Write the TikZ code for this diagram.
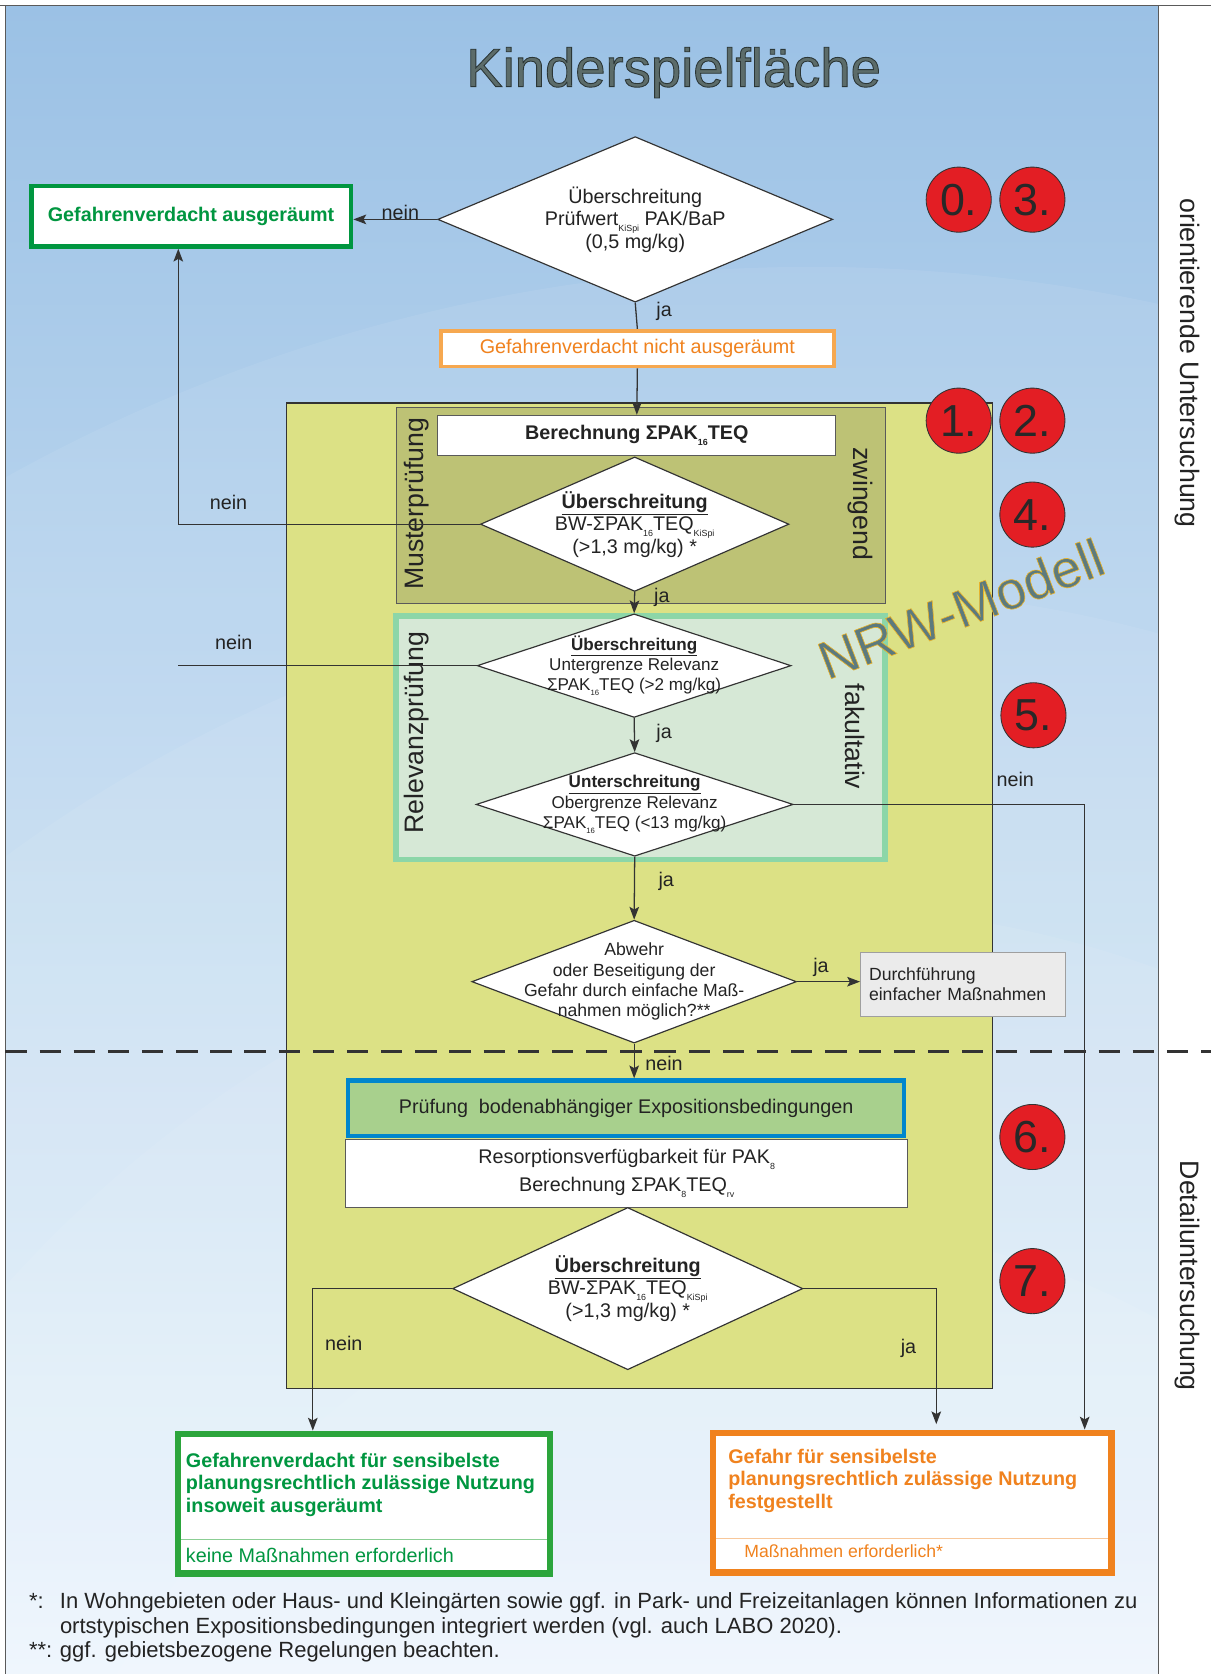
\documentclass[tikz,border=0pt]{standalone}
\usepackage{fontspec}
\setmainfont{Liberation Sans}
\newfontfamily\outlinefont[FakeBold=1.6]{Liberation Sans}
\newfontfamily\outlinefontthin[FakeBold=1.2]{Liberation Sans}
\usepackage{graphicx}
\usetikzlibrary{shapes.geometric,arrows.meta,calc}

\definecolor{bgtop}{RGB}{155,193,229}
\definecolor{bgmid}{RGB}{190,221,246}
\definecolor{bgbot}{RGB}{236,246,253}
\definecolor{yel}{RGB}{220,225,133}
\definecolor{olive}{RGB}{189,194,117}
\definecolor{relfill}{RGB}{214,232,214}
\definecolor{relline}{RGB}{140,214,168}
\definecolor{gruen}{RGB}{0,150,64}
\definecolor{gruenbox}{RGB}{44,165,60}
\definecolor{orangetxt}{RGB}{240,130,30}
\definecolor{orangebox}{RGB}{240,130,30}
\definecolor{orangelt}{RGB}{246,168,80}
\definecolor{pruefgreen}{RGB}{168,208,141}
\definecolor{pruefblue}{RGB}{0,134,205}
\definecolor{redc}{RGB}{227,30,36}
\definecolor{linec}{RGB}{51,51,51}
\definecolor{txt}{RGB}{35,35,35}
\definecolor{numtxt}{RGB}{40,40,40}
\definecolor{titlec}{RGB}{92,108,106}
\definecolor{nrwc}{RGB}{92,122,126}
\definecolor{boxgray}{RGB}{235,235,235}
\definecolor{framec}{RGB}{90,90,90}

\newcommand\fm{\fontsize{18.5}{21}\selectfont}
\newcommand\fs{\fontsize{16}{19}\selectfont}
\newcommand\fd{\fontsize{16.5}{19}\selectfont}
\newcommand\fr{\fontsize{25}{30}\selectfont}
\newcommand\ssub[1]{\raisebox{-0.28em}{\scalebox{0.45}{#1}}}
% stroke colour for outlined (fake bold) text
\newcommand\strokergb[1]{\special{pdf:literal direct #1 RG}}

\begin{document}
\begin{tikzpicture}[x=1pt,y=-1pt,
  arr/.style={draw=linec, line width=1.2pt, -{Stealth[length=12pt,width=9pt,inset=2.5pt]}},
  conn/.style={draw=linec, line width=1.2pt},
  dia/.style={diamond, draw=linec, line width=1.1pt, fill=white, inner sep=0pt},
  dtext/.style={align=center, text=txt, inner sep=0pt},
  lab/.style={font=\fm, text=txt, inner sep=0pt},
  vlab/.style={font=\fr, text=txt, inner sep=0pt},
  num/.style={circle, fill=redc, draw=linec, line width=0.8pt, minimum size=61pt, inner sep=0pt, font=\fontsize{42}{42}\selectfont, text=numtxt},
  region/.style={anchor=north west, inner sep=0pt, draw=linec, line width=1pt},
  plainbox/.style={inner sep=0pt, fill=white}
]
\useasboundingbox (0,0) rectangle (1134,1568);
\fill[white] (0,0) rectangle (1134,1568);
% background
\shade[top color=bgtop, middle color=bgmid, bottom color=bgbot] (5,5) rectangle (1085,1568);
\begin{scope}
  \clip (5,5) rectangle (1085,1568);
  \foreach \r in {0,300,600,900} {
    \fill[white, opacity=0.07] (760,2150) ellipse ({1700-\r} and {1900-\r});
  }
\end{scope}
\draw[framec, line width=1.2pt] (0,5) -- (1134,5);
\draw[framec, line width=1.2pt] (5,5) -- (5,1568);
\draw[framec, line width=1.6pt] (1085,5) -- (1085,1568);

% title
\node[font=\outlinefont\fontsize{51}{56}\selectfont, text=titlec, inner sep=0pt] (title) at (631,68)
  {\strokergb{0.17 0.21 0.21}Kinderspielfläche};

% regions
\node[region, fill=yel, minimum width=661pt, minimum height=923pt] (yelreg) at (268,377) {};
\node[region, fill=olive, draw=framec, minimum width=458pt, minimum height=184pt] (mustreg) at (371,381) {};
\node[region, fill=relfill, draw=relline, line width=5pt, minimum width=458pt, minimum height=228pt] (relreg) at (368.5,574.5) {};

\node[vlab, rotate=90] (muster) at (390,472) {Musterprüfung};
\node[vlab, rotate=-90] (zwing) at (806,472) {zwingend};
\node[vlab, rotate=90] (relev) at (390,686) {Relevanzprüfung};
\node[vlab, rotate=-90] (fakul) at (801,690) {fakultativ};

\node[vlab, rotate=-90] (orient) at (1112,340) {orientierende Untersuchung};
\node[vlab, rotate=-90] (detail) at (1112,1195) {Detailuntersuchung};

% NRW-Modell
\node[rotate=21, font=\outlinefontthin\fontsize{50}{50}\selectfont, text=nrwc, inner sep=0pt] (nrw) at (900,570)
  {\strokergb{0.91 0.70 0.16}NRW-Modell};

% boxes
\node[draw=gruen, line width=4.4pt, plainbox, minimum width=299.6pt, minimum height=56.6pt, font=\bfseries\fm, text=gruen] (ausg) at (179,202.5) {Gefahrenverdacht ausgeräumt};
\node[draw=orangelt, line width=3.5pt, plainbox, minimum width=368.5pt, minimum height=33.5pt, font=\fm, text=orangetxt] (nicht) at (597,326.5) {Gefahrenverdacht nicht ausgeräumt};
\node[draw=framec, line width=0.9pt, plainbox, minimum width=373pt, minimum height=38pt, font=\bfseries\fm, text=txt] (berech) at (596.5,408) {Berechnung ΣPAK\ssub{16}TEQ};

% diamonds
\node[dia, minimum width=370pt, minimum height=155pt] (d0) at (595,205.5) {};
\node[dtext, font=\fm] (d0t) at (d0.center) {Überschreitung\\Prüfwert\ssub{KiSpi} PAK/BaP\\(0,5 mg/kg)};
\node[dia, minimum width=289pt, minimum height=126pt] (d1) at (594.5,491) {};
\node[dtext, font=\fm] (d1t) at (d1.center) {\underline{\textbf{Überschreitung}}\\BW-ΣPAK\ssub{16}TEQ\ssub{KiSpi}\\(>1,3 mg/kg) *};
\node[dia, minimum width=294pt, minimum height=97pt] (d2) at (594,623.5) {};
\node[dtext, font=\fs] (d2t) at (d2.center) {\underline{\textbf{Überschreitung}}\\Untergrenze Relevanz\\ΣPAK\ssub{16}TEQ (>2 mg/kg)};
\node[dia, minimum width=297pt, minimum height=97pt] (d3) at (594.5,753.5) {};
\node[dtext, font=\fs] (d3t) at (d3.center) {\underline{\textbf{Unterschreitung}}\\Obergrenze Relevanz\\ΣPAK\ssub{16}TEQ (<13 mg/kg)};
\node[dia, minimum width=304pt, minimum height=115pt] (d4) at (594,919.5) {};
\node[dtext, font=\fd] (d4t) at (d4.center) {Abwehr\\oder Beseitigung der\\Gefahr durch einfache Maß-\\nahmen möglich?**};

\node[draw=gray!75, line width=0.9pt, fill=boxgray, text width=176pt, inner sep=8pt, minimum height=60pt, align=left, font=\fd, text=txt] (durch) at (902,922) {Durchführung\\einfacher Maßnahmen};

\node[draw=framec, line width=0.9pt, plainbox, minimum width=526pt, minimum height=64pt, align=center, font=\fontsize{18.5}{26}\selectfont, text=txt] (resorp) at (587,1099) {Resorptionsverfügbarkeit für PAK\ssub{8}\\Berechnung ΣPAK\ssub{8}TEQ\ssub{rv}};
\node[draw=pruefblue, line width=4pt, fill=pruefgreen, inner sep=0pt, minimum width=521pt, minimum height=52pt, font=\fm, text=txt] (pruef) at (586.5,1038) {Prüfung\ \ bodenabhängiger Expositionsbedingungen};

\node[dia, minimum width=328pt, minimum height=152pt] (d5) at (588,1207) {};
\node[dtext, font=\fm] (d5t) at (d5.center) {\underline{\textbf{Überschreitung}}\\BW-ΣPAK\ssub{16}TEQ\ssub{KiSpi}\\(>1,3 mg/kg) *};

% final boxes
\node[draw=gruenbox, line width=6pt, plainbox, minimum width=348pt, minimum height=131pt] (fgreen) at (341,1408.5) {};
\node[draw=orangebox, line width=6pt, plainbox, minimum width=373pt, minimum height=131pt] (forange) at (854.5,1407.5) {};
\draw[gruenbox!55, line width=1pt] (170,1442) -- (512,1442);
\draw[orangebox!45, line width=1pt] (671,1441) -- (1038,1441);
\node[anchor=north west, align=left, inner sep=0pt, font=\bfseries\fm, text=gruen] (fgtext) at (174,1361) {Gefahrenverdacht für sensibelste\\planungsrechtlich zulässige Nutzung\\insoweit ausgeräumt};
\node[anchor=west, inner sep=0pt, font=\fm, text=gruen] (fgsub) at (174,1457) {keine Maßnahmen erforderlich};
\node[anchor=north west, align=left, inner sep=0pt, font=\bfseries\fm, text=orangetxt] (fotext) at (682,1357) {Gefahr für sensibelste\\planungsrechtlich zulässige Nutzung\\festgestellt};
\node[anchor=west, inner sep=0pt, font=\fd, text=orangetxt] (fosub) at (697,1453) {Maßnahmen erforderlich*};

% numbers
\node[num] (c0) at (898,187) {0.};
\node[num] (c3) at (967,187) {3.};
\node[num] (c1) at (898,394) {1.};
\node[num] (c2) at (967,394) {2.};
\node[num] (c4) at (967,482) {4.};
\node[num] (c5) at (968,670) {5.};
\node[num] (c6) at (967,1065) {6.};
\node[num] (c7) at (967,1200) {7.};

% connectors
\coordinate (k1) at (167,491);
\coordinate (k2) at (1016,753.5);
\coordinate (k3) at (293,1207);
\coordinate (k4) at (877,1207);
\coordinate (k4e) at (877,1334);
\draw[arr] (d0.west) -- (d0.west -| ausg.east);
\draw[conn] (d0.south) -- (nicht.north);
\draw[arr] (nicht.south) -- (berech.north);
\draw[arr] (d1.south) -- (d2.north);
\draw[arr] (d2.south) -- (d3.north);
\draw[arr] (d3.south) -- (d4.north);
\draw[arr] (d4.east) -- (d4.east -| durch.west);
\draw[arr] (d4.south) -- (d4.south |- pruef.north);
\draw[arr] (d1.west) -- (k1) -- (k1 |- ausg.south);
\draw[conn] (d2.west) -- (d2.west -| k1);
\draw[arr] (d3.east) -- (k2) -- (k2 |- forange.north);
\draw[arr] (d5.west) -- (k3) -- (k3 |- fgreen.north);
\draw[arr] (d5.east) -- (k4) -- (k4e);

% labels
\node[lab] (l1) at (375,199) {nein};
\node[lab] (l2) at (622,292) {ja};
\node[lab] (l3) at (214,471) {nein};
\node[lab] (l4) at (219,602) {nein};
\node[lab] (l5) at (620,560) {ja};
\node[lab] (l6) at (622,687) {ja};
\node[lab] (l7) at (951,730) {nein};
\node[lab] (l8) at (624,826) {ja};
\node[lab] (l9) at (769,906) {ja};
\node[lab] (l10) at (622,996) {nein};
\node[lab] (l11) at (322,1258) {nein};
\node[lab] (l12) at (851,1263) {ja};

% dashed separator
\draw[linec, line width=3pt, dash pattern=on 20pt off 12pt] (5,985) -- (1134,985);

% footnotes
\node[anchor=west, inner sep=0pt, font=\fontsize{20.6}{23}\selectfont, text=txt] (foot) at (27,1525)
  {\begin{tabular}{@{}p{29pt}@{}l@{}}
   *: & In Wohngebieten oder Haus- und Kleingärten sowie ggf. in Park- und Freizeitanlagen können Informationen zu\\
      & ortstypischen Expositionsbedingungen integriert werden (vgl. auch LABO 2020).\\
   \relax **: & ggf. gebietsbezogene Regelungen beachten.
   \end{tabular}};
\end{tikzpicture}
\end{document}
